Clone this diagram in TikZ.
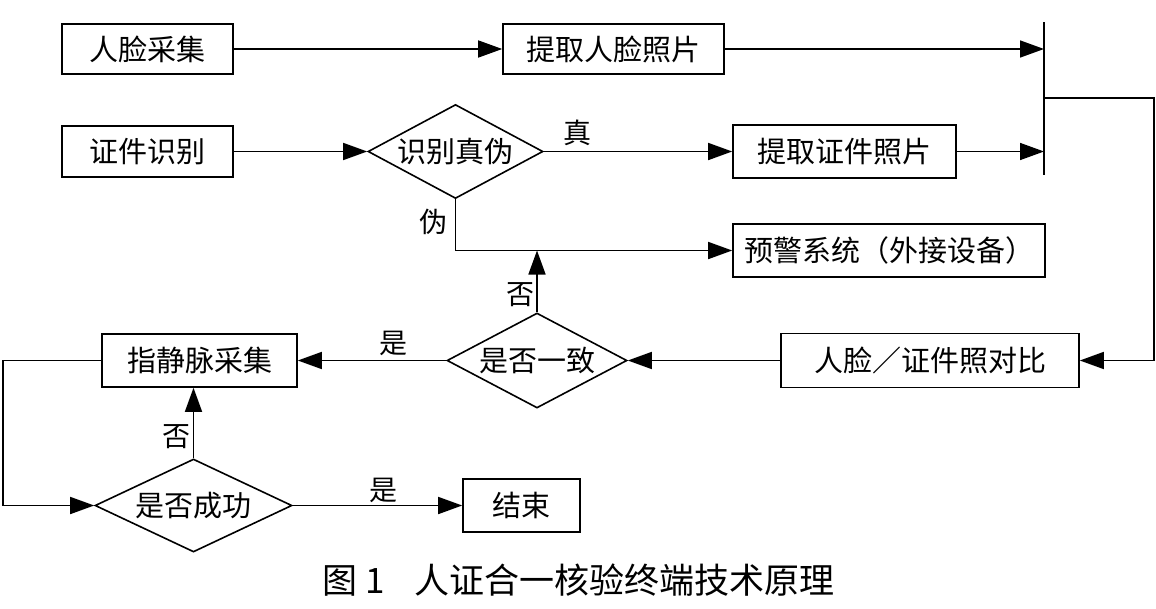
\documentclass[tikz,border=0pt]{standalone}
\usepackage{fontspec}
\setmainfont{Noto Sans CJK SC}
\usetikzlibrary{shapes.geometric,arrows.meta}
\begin{document}
\begin{tikzpicture}[x=1pt,y=-1pt,
 box/.style={draw,line width=1.6pt,inner sep=0pt,font=\fontsize{29}{32}\selectfont},
 dia/.style={draw,diamond,shape aspect=2,inner sep=0pt,line width=1.6pt,font=\fontsize{29}{32}\selectfont},
 lbl/.style={font=\fontsize{28}{30}\selectfont,inner sep=0pt},
 conn/.style={line width=1.6pt},
 arr/.style={conn,-{Triangle[length=24pt,width=17pt]}}]
\useasboundingbox (0,0) rectangle (1156,608);
\node[box,minimum width=171,minimum height=50] (rlcj) at (147.5,49) {人脸采集};
\node[box,minimum width=221,minimum height=50] (tqrl) at (613.5,49) {提取人脸照片};
\node[box,minimum width=171,minimum height=51] (zjsb) at (147.5,151.5) {证件识别};
\node[dia,minimum width=175,minimum height=94] (sbzw) at (455.5,151.5) {识别真伪};
\node[box,minimum width=223,minimum height=53] (tqzj) at (844.5,151.5) {提取证件照片};
\node[box,minimum width=312,minimum height=53] (yjxt) at (889,250.5) {预警系统（外接设备）};
\node[box,minimum width=298,minimum height=54] (db) at (930,360.5) {人脸／证件照对比};
\node[dia,minimum width=180,minimum height=95] (sfyz) at (537,360.5) {是否一致};
\node[box,minimum width=195,minimum height=53] (zjm) at (199.5,360.5) {指静脉采集};
\node[dia,minimum width=197,minimum height=93] (sfcg) at (193.5,505.5) {是否成功};
\node[box,minimum width=117,minimum height=53] (js) at (521.5,505.5) {结束};
\coordinate (bt) at (1044,22);
\coordinate (bb) at (1044,175);
\coordinate (bm) at (1044,98);
\coordinate (rr) at (1154,98);
\coordinate (ll) at (3,360.5);
\draw[conn] (bt) -- (bb);
\draw[arr] (rlcj.east) -- (tqrl.west);
\draw[arr] (tqrl.east) -- (tqrl.east -| bt);
\draw[arr] (zjsb.east) -- (sbzw.west);
\draw[arr] (sbzw.east) -- (tqzj.west);
\draw[arr] (tqzj.east) -- (tqzj.east -| bt);
\draw[arr] (sbzw.south) |- (yjxt.west);
\draw[arr] (sfyz.north) -- (sfyz.north |- yjxt.west);
\draw[arr] (bm) -- (rr) |- (db.east);
\draw[arr] (db.west) -- (sfyz.east);
\draw[arr] (sfyz.west) -- (zjm.east);
\draw[arr] (zjm.west) -- (ll) |- (sfcg.west);
\draw[arr] (sfcg.north) -- (sfcg.north |- zjm.south);
\draw[arr] (sfcg.east) -- (js.west);
\node[lbl] (lz) at (577,133) {真};
\node[lbl] (lw) at (433,222) {伪};
\node[lbl] (lf1) at (520,295) {否};
\node[lbl] (ls1) at (393,343) {是};
\node[lbl] (lf2) at (176,437) {否};
\node[lbl] (ls2) at (383,490) {是};
\node[font=\fontsize{35}{38}\selectfont,inner sep=0pt] (cap) at (578.5,580) {图\hspace{8pt}1\hspace{30pt}人证合一核验终端技术原理};
\end{tikzpicture}
\end{document}
